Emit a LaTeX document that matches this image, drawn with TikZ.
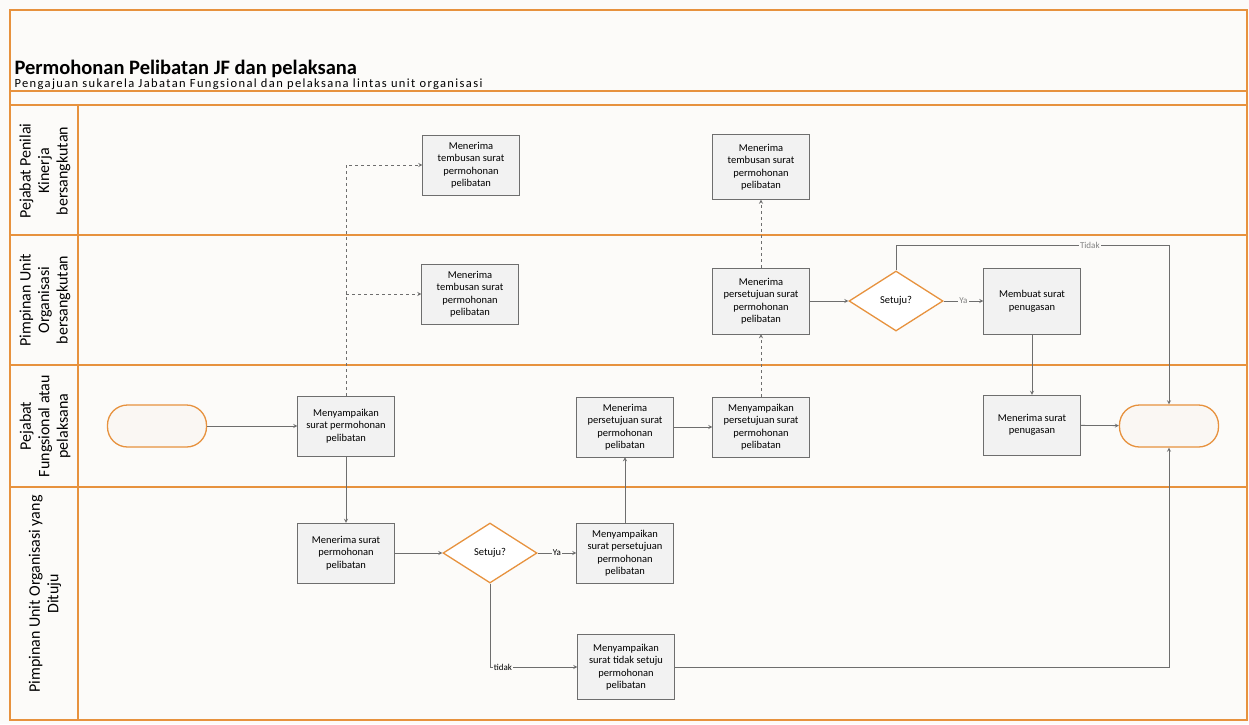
\documentclass[tikz,border=0pt]{standalone}
\usepackage{fontspec}
\setmainfont{Carlito}
\newfontfamily\subfont[LetterSpace=11]{Carlito}
\usepackage{tikz}
\usetikzlibrary{calc,positioning,arrows,shapes}
\definecolor{laneorange}{RGB}{231,146,62}
\definecolor{boxgray}{RGB}{242,242,242}
\definecolor{edgegray}{RGB}{110,110,110}
\definecolor{termfill}{RGB}{250,247,243}
\definecolor{paper}{RGB}{252,251,249}
\tikzstyle{proc}      = [rectangle, minimum width=97pt, minimum height=60pt, draw=edgegray, fill=boxgray, align=center, font=\fontsize{10.5}{12.5}\selectfont, inner sep=2pt]
\tikzstyle{decision}  = [diamond, aspect=1.6, minimum width=94pt, minimum height=60pt, inner sep=0pt, draw=laneorange, line width=1.3pt, fill=white, font=\fontsize{10.5}{12.5}\selectfont]
\tikzstyle{term}      = [rectangle, rounded corners=20pt, minimum width=99pt, minimum height=42pt, draw=laneorange, line width=1.3pt, fill=termfill]
\tikzstyle{flow}      = [->, >=stealth, draw=edgegray, line width=0.8pt]
\tikzstyle{dashflow}  = [flow, dashed]
\tikzstyle{lanelabel} = [rotate=90, align=center, font=\fontsize{16}{18.5}\selectfont]
\tikzstyle{cond}      = [font=\fontsize{9}{10}\selectfont, inner sep=1pt, fill=paper]
\begin{document}
\begin{tikzpicture}[x=1pt,y=-1pt]
        \fill[paper] (0,0) rectangle (1249,724);
        \useasboundingbox (0,0) rectangle (1249,724);
        % frame and lanes
        \draw[laneorange, line width=1.5pt] (10,10) rectangle (1247,720);
        \foreach \yy in {91,105,235,365,487}
            \draw[laneorange, line width=1.5pt] (10,\yy) -- (1247,\yy);
        \draw[laneorange, line width=1.5pt] (78,105) -- (78,720);

        \node[anchor=base west, font=\bfseries\fontsize{20.5}{24}\selectfont] (title) at (11,74) {Permohonan Pelibatan JF dan pelaksana};
        \node[anchor=base west, font=\subfont\fontsize{12.5}{14}\selectfont] (subtitle) at (11,87) {Pengajuan sukarela Jabatan Fungsional dan pelaksana lintas unit organisasi};

        \node[lanelabel] (lane1) at (45,171) {Pejabat Penilai\\Kinerja\\bersangkutan};
        \node[lanelabel] (lane2) at (45,300) {Pimpinan Unit\\Organisasi\\bersangkutan};
        \node[lanelabel] (lane3) at (45,426) {Pejabat\\Fungsional atau\\pelaksana};
        \node[lanelabel] (lane4) at (45,594) {Pimpinan Unit Organisasi yang\\Dituju};

        % steps
        \node[term] (start) at (157,426) {};
        \node[proc] (send) at (346,426) {Menyampaikan\\surat permohonan\\pelibatan};
        \node[proc] (temb1) at (471,165) {Menerima\\tembusan surat\\permohonan\\pelibatan};
        \node[proc] (temb2) at (470,294) {Menerima\\tembusan surat\\permohonan\\pelibatan};
        \node[proc] (recv) at (346,553) {Menerima surat\\permohonan\\pelibatan};
        \node[decision] (dec1) at (490,553) {Setuju?};
        \node[proc] (sendok) at (625,553) {Menyampaikan\\surat persetujuan\\permohonan\\pelibatan};
        \node[proc, minimum height=65pt] (nok) at (626,667) {Menyampaikan\\surat tidak setuju\\permohonan\\pelibatan};
        \node[proc] (rcvok) at (625,427) {Menerima\\persetujuan surat\\permohonan\\pelibatan};
        \node[proc] (fwdok) at (761,427) {Menyampaikan\\persetujuan surat\\permohonan\\pelibatan};
        \node[proc, minimum height=66pt] (rcvok2) at (761,301) {Menerima\\persetujuan surat\\permohonan\\pelibatan};
        \node[proc, minimum height=65pt] (temb3) at (761,167) {Menerima\\tembusan surat\\permohonan\\pelibatan};
        \node[decision] (dec2) at (896,301) {Setuju?};
        \node[proc, minimum height=66pt] (mktask) at (1032,301) {Membuat surat\\penugasan};
        \node[proc] (rcvtask) at (1032,425) {Menerima surat\\penugasan};
        \node[term] (finish) at (1169,426) {};
        \coordinate (tidakturn) at (1169,245);

        % connectors
        \draw[flow] (start) -- (send);
        \draw[dashflow] (send.north) |- (temb1);
        \draw[dashflow] (send.north) |- (temb2);
        \draw[flow] (send) -- (recv);
        \draw[flow] (recv) -- (dec1);
        \draw[flow] (dec1) -- node[cond] {Ya} (sendok);
        \draw[flow] (dec1.south) |- node[cond, pos=0.574] {tidak} (nok);
        \draw[flow] (sendok) -- (rcvok);
        \draw[flow] (rcvok) -- (fwdok);
        \draw[dashflow] (fwdok) -- (rcvok2);
        \draw[dashflow] (rcvok2) -- (temb3);
        \draw[flow] (rcvok2) -- (dec2);
        \draw[flow] (dec2) -- node[cond, text=gray] {Ya} (mktask);
        \draw[flow] (dec2.north) |- node[cond, pos=0.855, text=gray] {Tidak} (tidakturn) -- (finish);
        \draw[flow] (mktask) -- (rcvtask);
        \draw[flow] (rcvtask) -- (finish);
        \draw[flow] (nok) -| (finish);
\end{tikzpicture}
\end{document}
